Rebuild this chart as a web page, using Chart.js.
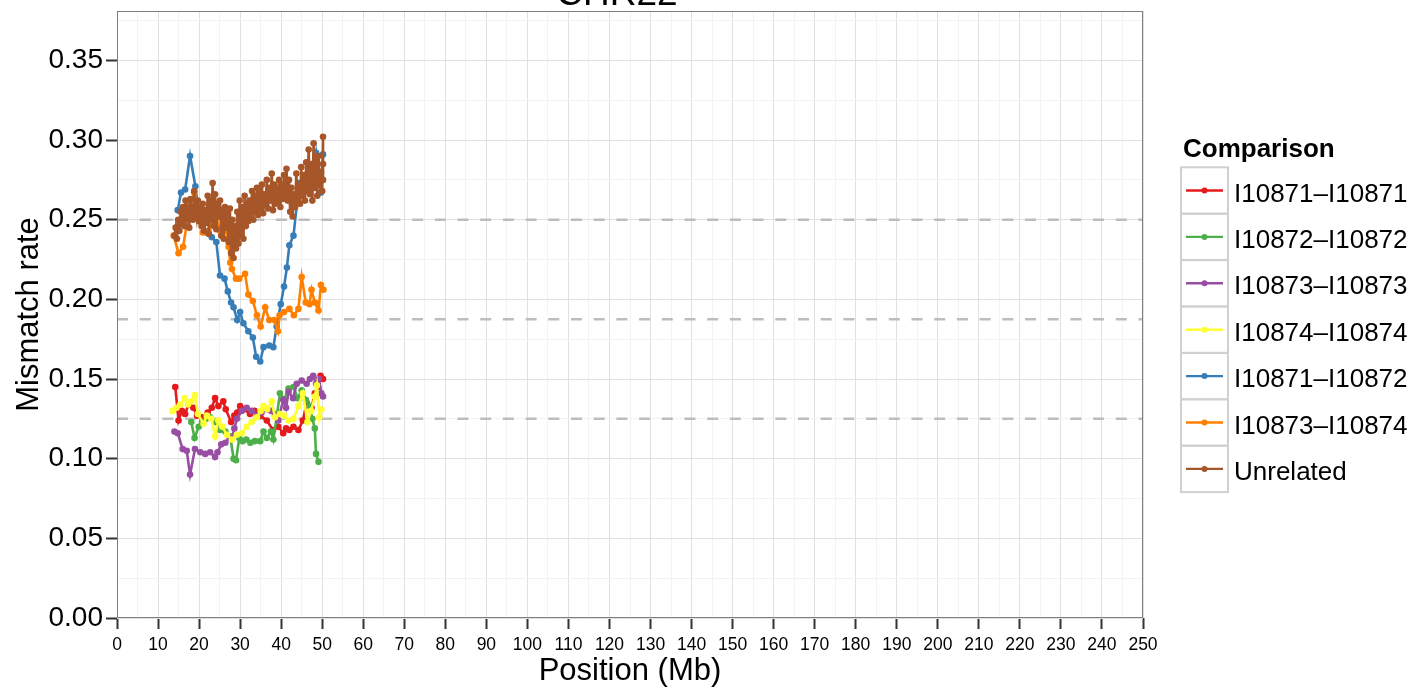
<!DOCTYPE html>
<html>
<head>
<meta charset="utf-8">
<script src="https://cdn.jsdelivr.net/npm/chart.js@4.4.1/dist/chart.umd.min.js"></script>
<style>
  html, body { margin: 0; padding: 0; background: #fff; overflow: hidden; }
  canvas { display: block; }
</style>
</head>
<body>
<canvas id="chart" width="1419" height="692"></canvas>
<script>
// ---- data: chr22 mismatch rate along the chromosome (position in Mb) ----
const chartTitle = 'CHR22';
const comparisons = ['I10871–I10871', 'I10872–I10872', 'I10873–I10873', 'I10874–I10874',
                     'I10871–I10872', 'I10873–I10874', 'Unrelated'];
const referenceRates = [0.25, 0.1875, 0.125];

const pos10871 = [14.2, 15.0, 15.8, 16.6, 17.4, 18.6, 19.5, 20.7, 22.1, 23.1, 23.9, 24.7, 25.9, 26.5,
                  27.8, 28.6, 29.3, 30.0, 31.0, 32.4, 33.5, 34.9, 36.5, 38.0, 39.3, 40.5, 41.2, 42.0,
                  43.0, 44.2, 45.3, 46.2, 47.4, 48.2, 49.0, 49.6, 50.2];
const rate10871 = [0.145, 0.124, 0.130, 0.128, 0.134, 0.132, 0.127, 0.126, 0.129, 0.132, 0.138, 0.133, 0.136, 0.131,
                   0.123, 0.127, 0.129, 0.133, 0.131, 0.128, 0.130, 0.127, 0.124, 0.118, 0.120, 0.116, 0.119, 0.118,
                   0.120, 0.118, 0.124, 0.135, 0.132, 0.141, 0.145, 0.152, 0.150];

const pos10872 = [18.1, 18.9, 19.9, 20.7, 21.7, 22.7, 23.9, 25.1, 26.4, 27.6, 28.4, 29.0, 29.8, 30.6, 31.5,
                  32.5, 33.6, 34.9, 35.7, 36.5, 37.5, 38.1, 39.0, 39.7, 40.7, 41.8, 43.0, 44.0, 45.0, 46.0,
                  46.9, 47.6, 48.2, 48.5, 49.1];
const rate10872 = [0.123, 0.113, 0.120, 0.123, 0.125, 0.126, 0.123, 0.118, 0.117, 0.114, 0.100, 0.099, 0.113, 0.111, 0.112,
                   0.110, 0.111, 0.111, 0.117, 0.113, 0.117, 0.112, 0.128, 0.141, 0.137, 0.144, 0.145, 0.138, 0.143, 0.137,
                   0.133, 0.125, 0.119, 0.103, 0.098];

const pos10873 = [14.0, 14.8, 16.0, 17.0, 17.8, 19.0, 20.3, 21.5, 22.7, 23.9, 24.5, 25.4, 26.4, 27.4, 28.0,
                  28.6, 29.2, 30.4, 31.6, 32.8, 34.1, 35.2, 36.5, 37.6, 38.5, 39.3, 40.5, 41.2, 41.8, 42.9,
                  43.8, 45.0, 46.2, 47.0, 47.8, 48.5, 49.2, 49.8, 50.2];
const rate10873 = [0.117, 0.116, 0.106, 0.105, 0.090, 0.106, 0.104, 0.103, 0.104, 0.101, 0.104, 0.109, 0.110, 0.113, 0.113,
                   0.119, 0.125, 0.130, 0.132, 0.130, 0.127, 0.129, 0.131, 0.130, 0.127, 0.124, 0.137, 0.132, 0.142, 0.138,
                   0.147, 0.149, 0.147, 0.150, 0.152, 0.147, 0.150, 0.141, 0.139];

const pos10874 = [13.5, 14.5, 15.4, 16.5, 17.3, 18.1, 19.0, 19.7, 21.1, 21.9, 23.0, 23.9, 24.7, 25.7, 26.8,
                  28.0, 29.2, 30.4, 31.6, 32.8, 34.1, 35.0, 35.7, 36.6, 37.7, 38.5, 39.7, 40.7, 41.8, 43.0,
                  44.2, 45.3, 46.4, 47.3, 48.2, 48.7, 49.3, 49.8];
const rate10874 = [0.130, 0.132, 0.134, 0.138, 0.134, 0.136, 0.140, 0.128, 0.122, 0.127, 0.125, 0.114, 0.124, 0.120, 0.115,
                   0.112, 0.115, 0.116, 0.120, 0.123, 0.126, 0.130, 0.133, 0.131, 0.136, 0.126, 0.128, 0.127, 0.124, 0.125,
                   0.133, 0.141, 0.123, 0.130, 0.139, 0.146, 0.126, 0.131];

const pos10871x10872 = [14.8, 15.6, 16.6, 17.8, 19.1, 19.9, 21.0, 21.7, 23.1, 24.2, 25.1, 26.2, 27.0, 27.8, 28.4,
                        29.3, 30.0, 30.8, 32.0, 33.1, 33.9, 34.9, 35.7, 37.1, 38.1, 38.9, 39.9, 40.7, 41.4, 42.0,
                        43.0, 44.4, 45.4, 46.9, 47.9, 48.5, 49.1, 49.7, 50.2];
const rate10871x10872 = [0.256, 0.267, 0.269, 0.290, 0.271, 0.254, 0.249, 0.242, 0.239, 0.236, 0.215, 0.213, 0.205, 0.198, 0.195,
                         0.187, 0.192, 0.185, 0.180, 0.176, 0.164, 0.161, 0.170, 0.171, 0.170, 0.183, 0.197, 0.208, 0.220, 0.234,
                         0.240, 0.273, 0.274, 0.277, 0.283, 0.292, 0.278, 0.267, 0.291];

const pos10873x10874 = [13.8, 15.0, 16.1, 17.7, 18.8, 20.3, 20.9, 22.3, 23.4, 24.2, 25.1, 26.4, 27.2, 27.6, 28.0,
                        29.0, 29.8, 31.2, 32.0, 33.1, 34.1, 35.0, 36.1, 37.1, 38.3, 39.2, 39.6, 40.7, 42.0, 43.1,
                        44.2, 45.0, 46.0, 46.9, 47.4, 48.2, 49.1, 49.7, 50.3];
const rate10873x10874 = [0.240, 0.229, 0.233, 0.258, 0.267, 0.252, 0.242, 0.243, 0.250, 0.251, 0.243, 0.246, 0.233, 0.223, 0.219,
                         0.213, 0.213, 0.216, 0.203, 0.199, 0.190, 0.183, 0.195, 0.187, 0.187, 0.180, 0.190, 0.192, 0.194, 0.190,
                         0.194, 0.214, 0.198, 0.197, 0.206, 0.198, 0.193, 0.209, 0.206];

const posUnrelated = [14.0, 14.3, 14.6, 14.9, 15.2, 15.5, 15.8, 16.1, 16.4, 16.7, 17.0, 17.3, 17.6, 17.9, 18.2, 18.5,
                      18.8, 19.1, 19.4, 19.7, 20.0, 20.3, 20.6, 20.9, 21.2, 21.5, 21.8, 22.1, 22.4, 22.7, 23.0, 23.3,
                      23.6, 23.9, 24.2, 24.5, 24.8, 25.1, 25.4, 25.7, 26.0, 26.3, 26.6, 26.9, 27.2, 27.5, 27.8, 28.1,
                      28.4, 28.7, 29.0, 29.3, 29.6, 29.9, 30.2, 30.5, 30.8, 31.1, 31.4, 31.7, 32.0, 32.3, 32.6, 32.9,
                      33.2, 33.5, 33.8, 34.1, 34.4, 34.7, 35.0, 35.3, 35.6, 35.9, 36.2, 36.5, 36.8, 37.1, 37.4, 37.7,
                      38.0, 38.3, 38.6, 38.9, 39.2, 39.5, 39.8, 40.1, 40.4, 40.7, 41.0, 41.3, 41.6, 41.9, 42.2, 42.5,
                      42.8, 43.1, 43.4, 43.7, 44.0, 44.3, 44.6, 44.9, 45.2, 45.5, 45.8, 46.1, 46.4, 46.7, 47.0, 47.3,
                      47.6, 47.9, 48.2, 48.5, 48.8, 49.1, 49.4, 49.7, 50.0, 50.2, 50.2, 50.2];
const rateUnrelated = [0.240, 0.245, 0.238, 0.250, 0.243, 0.255, 0.248, 0.258, 0.246, 0.262, 0.252, 0.257, 0.245, 0.263, 0.255, 0.250,
                       0.268, 0.258, 0.252, 0.262, 0.249, 0.258, 0.246, 0.260, 0.243, 0.256, 0.248, 0.265, 0.241, 0.262, 0.250, 0.273,
                       0.246, 0.266, 0.244, 0.260, 0.252, 0.262, 0.240, 0.256, 0.238, 0.258, 0.245, 0.254, 0.236, 0.257, 0.229, 0.250,
                       0.226, 0.246, 0.232, 0.255, 0.235, 0.262, 0.240, 0.258, 0.238, 0.265, 0.246, 0.260, 0.249, 0.262, 0.252, 0.268,
                       0.250, 0.265, 0.255, 0.270, 0.253, 0.268, 0.257, 0.272, 0.254, 0.266, 0.259, 0.275, 0.257, 0.270, 0.262, 0.279,
                       0.256, 0.272, 0.260, 0.268, 0.262, 0.275, 0.258, 0.272, 0.263, 0.278, 0.265, 0.282, 0.262, 0.275, 0.255, 0.270,
                       0.252, 0.266, 0.258, 0.279, 0.262, 0.272, 0.260, 0.283, 0.265, 0.278, 0.262, 0.286, 0.268, 0.294, 0.266, 0.285,
                       0.262, 0.298, 0.270, 0.288, 0.265, 0.290, 0.272, 0.280, 0.268, 0.302, 0.285, 0.275];

const seriesPositions = [pos10871, pos10872, pos10873, pos10874, pos10871x10872, pos10873x10874, posUnrelated];
const seriesRates = [rate10871, rate10872, rate10873, rate10874, rate10871x10872, rate10873x10874, rateUnrelated];

// ---- styling ----
const palette = ['#E41A1C', '#4DAF4A', '#984EA3', '#FFFF33', '#377EB8', '#FF7F00', '#A65628'];
const FONT = '"Liberation Sans", Arial, Helvetica, sans-serif';

const datasets = [];
referenceRates.forEach(r => {
  datasets.push({
    label: 'ref ' + r,
    data: [{ x: 0, y: r }, { x: 250, y: r }],
    borderColor: '#bdbdbd',
    borderWidth: 2.5,
    borderDash: [11, 11.7],
    pointRadius: 0,
    order: 20
  });
});
comparisons.forEach((name, i) => {
  datasets.push({
    label: name,
    data: seriesPositions[i].map((x, k) => ({ x: x, y: seriesRates[i][k] })),
    borderColor: palette[i],
    backgroundColor: palette[i],
    borderWidth: 2.6,
    pointRadius: 3.3,
    pointBorderWidth: 0,
    pointBackgroundColor: palette[i],
    tension: 0,
    order: comparisons.length - i
  });
});

const isMajorX = v => Math.round(v) % 10 === 0;
const isMajorY = v => Math.round(v * 1000) % 50 === 0;

// panel border, clipped title and ggplot-style legend
const decorations = {
  id: 'decorations',
  afterDraw(chart) {
    const ctx = chart.ctx;
    const a = chart.chartArea;
    ctx.save();
    ctx.strokeStyle = '#7f7f7f';
    ctx.lineWidth = 1;
    ctx.strokeRect(a.left + 0.5, a.top + 0.5, a.right - a.left - 1, a.bottom - a.top - 1);

    ctx.fillStyle = '#000';
    ctx.font = '37px ' + FONT;
    ctx.textAlign = 'center';
    ctx.textBaseline = 'alphabetic';
    ctx.fillText(chartTitle, 617, 5);

    ctx.textAlign = 'left';
    ctx.font = 'bold 26px ' + FONT;
    ctx.fillText('Comparison', 1183, 157);

    const boxX = 1181, boxW = 47, boxH = 46.4, boxTop = 167.3;
    comparisons.forEach((name, i) => {
      const y0 = boxTop + i * boxH;
      const cy = y0 + boxH / 2;
      ctx.strokeStyle = '#d0d0d0';
      ctx.lineWidth = 2;
      ctx.strokeRect(boxX, y0, boxW, boxH);
      ctx.strokeStyle = palette[i];
      ctx.lineWidth = 2.4;
      ctx.beginPath();
      ctx.moveTo(1186, cy);
      ctx.lineTo(1223, cy);
      ctx.stroke();
      ctx.fillStyle = palette[i];
      ctx.beginPath();
      ctx.arc(1204.5, cy, 3, 0, Math.PI * 2);
      ctx.fill();
      ctx.fillStyle = '#000';
      ctx.font = '26px ' + FONT;
      ctx.fillText(name, 1234, cy + 11);
    });
    ctx.restore();
  }
};

new Chart(document.getElementById('chart'), {
  type: 'line',
  data: { datasets },
  plugins: [decorations],
  options: {
    responsive: false,
    animation: false,
    devicePixelRatio: 1,
    layout: { padding: { top: 11, right: 276, left: 0, bottom: 0 } },
    plugins: { legend: { display: false }, tooltip: { enabled: false } },
    scales: {
      x: {
        type: 'linear',
        min: 0,
        max: 250,
        afterFit(scale) { scale.height = 74; scale.paddingLeft = 0; scale.paddingRight = 0; },
        border: { display: false },
        grid: {
          color: c => isMajorX(c.tick.value) ? '#e0e0e0' : '#f2f2f2',
          lineWidth: 1,
          tickLength: 11,
          tickWidth: 2,
          tickColor: c => isMajorX(c.tick.value) ? '#333' : 'rgba(0,0,0,0)'
        },
        ticks: {
          stepSize: 5,
          autoSkip: false,
          maxRotation: 0,
          minRotation: 0,
          padding: 6,
          color: '#000',
          font: { family: FONT, size: 17.5 },
          callback: v => isMajorX(v) ? String(Math.round(v)) : ''
        },
        title: {
          display: true,
          text: 'Position (Mb)',
          color: '#000',
          font: { family: FONT, size: 31 },
          padding: { top: 0, bottom: 2.4 }
        }
      },
      y: {
        type: 'linear',
        min: 0,
        max: 0.381,
        afterFit(scale) { scale.width = 117; scale.paddingTop = 0; scale.paddingBottom = 0; },
        border: { display: false },
        grid: {
          color: c => isMajorY(c.tick.value) ? '#e0e0e0' : '#f2f2f2',
          lineWidth: 1,
          tickLength: 11,
          tickWidth: 2,
          tickColor: c => isMajorY(c.tick.value) ? '#333' : 'rgba(0,0,0,0)'
        },
        ticks: {
          stepSize: 0.025,
          includeBounds: false,
          autoSkip: false,
          padding: 3,
          color: '#000',
          font: { family: FONT, size: 28 },
          callback: v => isMajorY(v) ? (Math.round(v * 1000) / 1000).toFixed(2) : ''
        },
        title: {
          display: true,
          text: 'Mismatch rate',
          color: '#000',
          font: { family: FONT, size: 31 },
          padding: { top: 11, bottom: 0 }
        }
      }
    }
  }
});
</script>
</body>
</html>
